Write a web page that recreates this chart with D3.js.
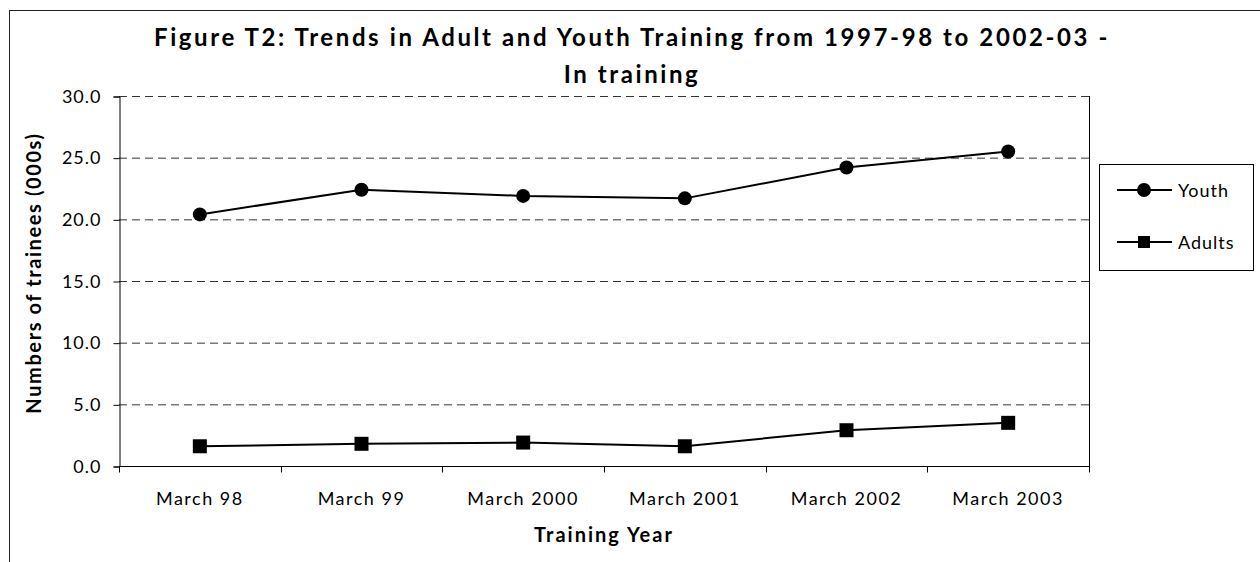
<!DOCTYPE html>
<html>
<head>
<meta charset="utf-8">
<script src="https://cdn.jsdelivr.net/npm/d3@7"></script>
<style>
body { margin: 0; background: #fff; }
svg text { font-family: "Lato", "Open Sans", sans-serif; fill: #000; }
</style>
</head>
<body>
<div id="svgWrapper"></div>
<script>

var categories = ["March 98", "March 99", "March 2000", "March 2001", "March 2002", "March 2003"];
var youth = [20.4, 22.4, 21.9, 21.7, 24.2, 25.5];
var adults = [1.6, 1.8, 1.9, 1.6, 2.9, 3.5];
var yTicks = [0, 5, 10, 15, 20, 25, 30];
var seriesNames = ["Youth", "Adults"];

function visualiseChart() {

	var fullWidth = 1260, fullHeight = 562;
	var left = 119, top = 96, right = 1089, bottom = 466;

	var svg = d3.select("#svgWrapper")
				.append("svg")
				.attr("width", fullWidth)
				.attr("height", fullHeight);

	// outer chart border (runs off the page right/bottom)
	svg.append("rect").attr("x", 9.5).attr("y", 10.5).attr("width", 1300).attr("height", 700)
		.attr("fill", "white").attr("stroke", "#222").attr("stroke-width", 1);

	var xScale = d3.scaleBand().domain(categories).range([left, right]);
	var yScale = d3.scaleLinear().domain([0, 30]).range([bottom, top]);

	// dashed gridlines
	svg.append("g").selectAll("line")
		.data(yTicks.filter(function(d) { return d > 0; }))
		.enter().append("line")
		.attr("x1", left).attr("x2", right)
		.attr("y1", function(d) { return yScale(d) + 0.5; })
		.attr("y2", function(d) { return yScale(d) + 0.5; })
		.attr("stroke", "#333").attr("stroke-dasharray", "8,5");

	// right border of plot
	svg.append("line").attr("x1", right + 0.5).attr("x2", right + 0.5)
		.attr("y1", top).attr("y2", bottom).attr("stroke", "#000");

	// Y axis
	var yAxis = svg.append("g")
		.attr("transform", "translate(" + (left + 0.5) + ",0.5)")
		.call(d3.axisLeft(yScale).tickValues(yTicks).tickFormat(d3.format(".1f")).tickSize(6).tickPadding(12));
	yAxis.selectAll("text").style("font-size", "18px").style("letter-spacing", "1px");
	yAxis.select(".domain").attr("stroke", "#000");
	yAxis.selectAll(".tick line").attr("stroke", "#000");

	// X axis with ticks at category boundaries
	var xAxis = svg.append("g")
		.attr("transform", "translate(0," + (bottom + 0.5) + ")");
	xAxis.append("line").attr("x1", left).attr("x2", right + 1).attr("stroke", "#000");
	xAxis.selectAll("line.tk")
		.data(categories.concat(["end"]))
		.enter().append("line").attr("class", "tk")
		.attr("x1", function(d, i) { return Math.round(left + i * xScale.bandwidth()) + 0.5; })
		.attr("x2", function(d, i) { return Math.round(left + i * xScale.bandwidth()) + 0.5; })
		.attr("y1", 0).attr("y2", 6).attr("stroke", "#000");
	xAxis.selectAll("text")
		.data(categories)
		.enter().append("text")
		.attr("x", function(d) { return xScale(d) + xScale.bandwidth() / 2; })
		.attr("y", 38)
		.attr("text-anchor", "middle")
		.style("font-size", "18px").style("letter-spacing", "1.5px")
		.text(function(d) { return d; });

	// titles
	svg.append("text").attr("x", 632).attr("y", 46).attr("text-anchor", "middle")
		.style("font-size", "24px").style("font-weight", "bold").style("letter-spacing", "2.6px")
		.text("Figure T2: Trends in Adult and Youth Training from 1997-98 to 2002-03 -");
	svg.append("text").attr("x", 632).attr("y", 83).attr("text-anchor", "middle")
		.style("font-size", "24px").style("font-weight", "bold").style("letter-spacing", "2.6px")
		.text("In training");
	svg.append("text").attr("x", 604).attr("y", 542).attr("text-anchor", "middle")
		.style("font-size", "20px").style("font-weight", "bold").style("letter-spacing", "2px")
		.text("Training Year");
	svg.append("text").attr("transform", "translate(41,273) rotate(-90)").attr("text-anchor", "middle")
		.style("font-size", "20px").style("font-weight", "bold").style("letter-spacing", "1.6px")
		.text("Numbers of trainees (000s)");

	// lines
	var line = d3.line()
		.x(function(d, i) { return xScale(categories[i]) + xScale.bandwidth() / 2; })
		.y(function(d) { return yScale(d); });

	[youth, adults].forEach(function(s) {
		svg.append("path").attr("d", line(s)).attr("fill", "none")
			.attr("stroke", "#000").attr("stroke-width", 2);
	});

	svg.append("g").selectAll("circle")
		.data(youth).enter().append("circle")
		.attr("cx", function(d, i) { return xScale(categories[i]) + xScale.bandwidth() / 2; })
		.attr("cy", function(d) { return yScale(d); })
		.attr("r", 7).attr("fill", "#000");

	svg.append("g").selectAll("rect")
		.data(adults).enter().append("rect")
		.attr("x", function(d, i) { return xScale(categories[i]) + xScale.bandwidth() / 2 - 7; })
		.attr("y", function(d) { return yScale(d) - 7; })
		.attr("width", 14).attr("height", 14).attr("fill", "#000");

	// legend
	var legend = svg.append("g");
	legend.append("rect").attr("x", 1099.5).attr("y", 164.5).attr("width", 154).attr("height", 106)
		.attr("fill", "white").attr("stroke", "#000");
	seriesNames.forEach(function(name, i) {
		var ly = 190 + i * 52;
		legend.append("line").attr("x1", 1117).attr("x2", 1172).attr("y1", ly).attr("y2", ly)
			.attr("stroke", "#000").attr("stroke-width", 2);
		if (i == 0) {
			legend.append("circle").attr("cx", 1144).attr("cy", ly).attr("r", 7).attr("fill", "#000");
		} else {
			legend.append("rect").attr("x", 1138).attr("y", ly - 6).attr("width", 12).attr("height", 12).attr("fill", "#000");
		}
		legend.append("text").attr("x", 1178).attr("y", ly + 7).style("font-size", "18px").style("letter-spacing", "1px").text(name);
	});
}

visualiseChart();

</script>
</body>
</html>
